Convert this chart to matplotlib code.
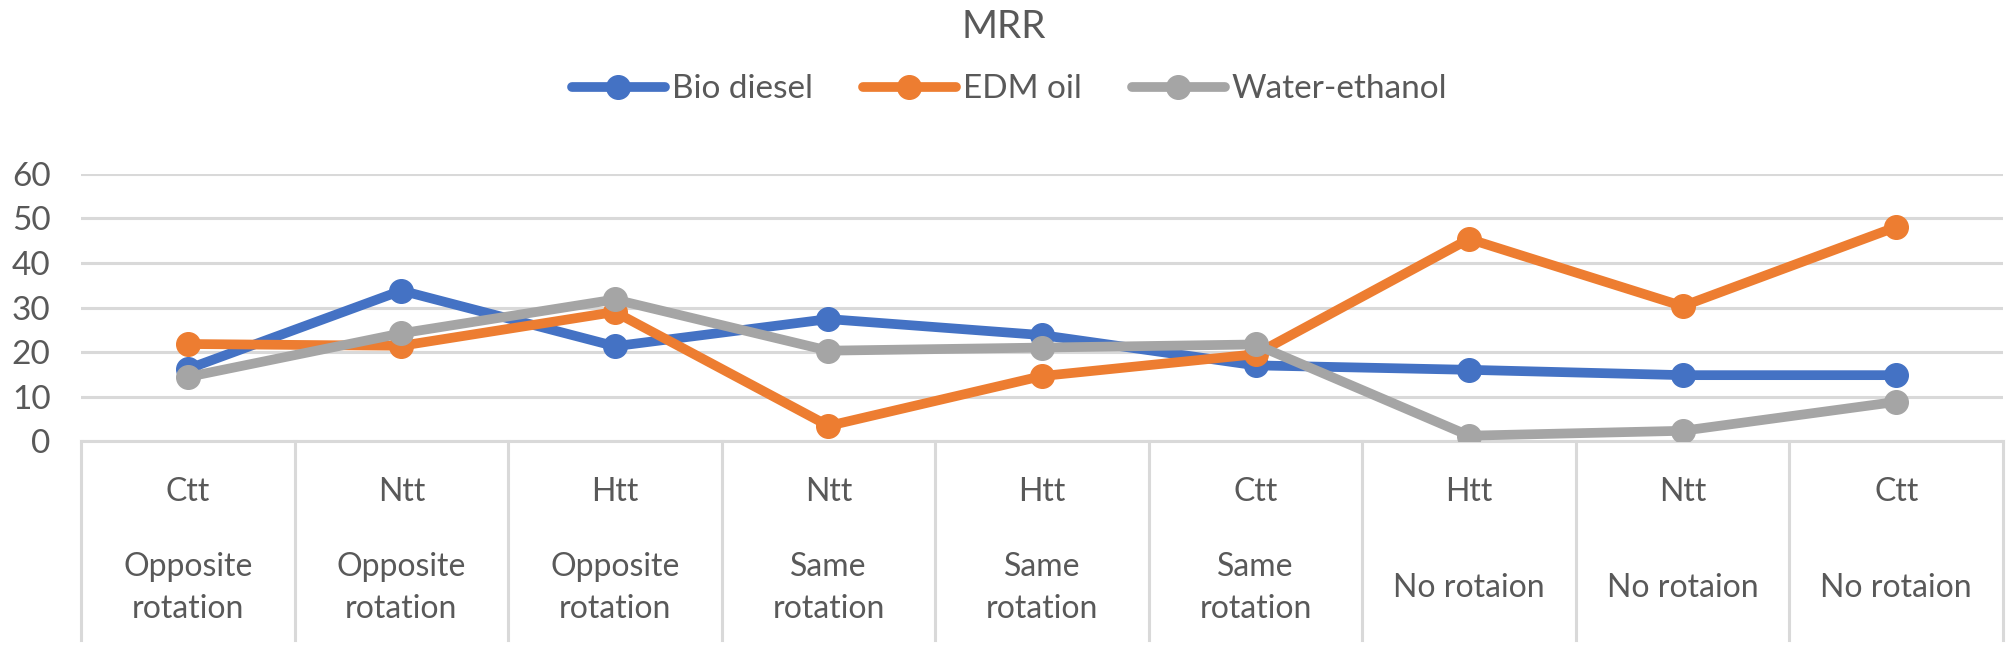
import matplotlib
matplotlib.use("Agg")
import matplotlib.pyplot as plt
import matplotlib.transforms as mtransforms

categories = ["Ctt", "Ntt", "Htt", "Ntt", "Htt", "Ctt", "Htt", "Ntt", "Ctt"]
groups = ["Opposite\nrotation", "Opposite\nrotation", "Opposite\nrotation",
          "Same\nrotation", "Same\nrotation", "Same\nrotation",
          "No rotaion", "No rotaion", "No rotaion"]
bio_diesel = [16.2, 33.8, 21.3, 27.4, 23.8, 17.0, 16.0, 14.8, 14.8]
edm_oil = [21.8, 21.4, 29.0, 3.4, 14.6, 19.5, 45.4, 30.3, 48.1]
water_ethanol = [14.4, 24.2, 31.8, 20.3, 21.0, 21.7, 1.2, 2.3, 8.8]
y_ticks = [0, 10, 20, 30, 40, 50, 60]

series = [("Bio diesel", bio_diesel, "#4472C4"),
          ("EDM oil", edm_oil, "#ED7D31"),
          ("Water-ethanol", water_ethanol, "#A5A5A5")]

plt.rcParams['font.family'] = ['Lato', 'DejaVu Sans']
txt = "#595959"
grid = "#D9D9D9"

fig = plt.figure(figsize=(20.07, 6.48), dpi=100)
ax = fig.add_axes([0.0404, 0.3194, 0.9576, 0.4121])

x = list(range(len(categories)))
for name, vals, col in series:
    ax.plot(x, vals, color=col, lw=7, marker="o", ms=17, label=name,
            solid_capstyle="round", solid_joinstyle="round", zorder=3)

ax.set_xlim(-0.5, len(categories) - 0.5)
ax.set_ylim(0, 60)
ax.set_yticks(y_ticks)
ax.set_yticklabels([str(t) for t in y_ticks], fontsize=24, color=txt)
ax.tick_params(axis="y", length=0, pad=22)
ax.set_xticks([])
ax.yaxis.grid(True, color=grid, lw=2.2)
ax.set_axisbelow(True)
for s in ["top", "right", "left"]:
    ax.spines[s].set_visible(False)
ax.spines["bottom"].set_color(grid)
ax.spines["bottom"].set_linewidth(2.2)

# category table below axis
trans = mtransforms.blended_transform_factory(ax.transData, ax.transAxes)
bottom = -0.745
for i in range(len(categories) + 1):
    ax.plot([i - 0.5, i - 0.5], [0, bottom], color=grid, lw=2.2,
            transform=trans, clip_on=False)
for i in x:
    ax.text(i, -0.19, categories[i], transform=trans, ha="center", va="center",
            fontsize=23, color=txt)
    ax.text(i, -0.55, groups[i], transform=trans, ha="center", va="center",
            fontsize=23, color=txt, linespacing=1.5)

fig.text(0.5, 0.958, "MRR", ha="center", va="center", fontsize=28, color=txt)
fig.legend(loc="center", bbox_to_anchor=(0.503, 0.862), ncol=3, frameon=False,
           fontsize=24, labelcolor=txt, handlelength=2.8, columnspacing=1.5,
           handletextpad=0.2)

fig.savefig("out.png", dpi=100)
